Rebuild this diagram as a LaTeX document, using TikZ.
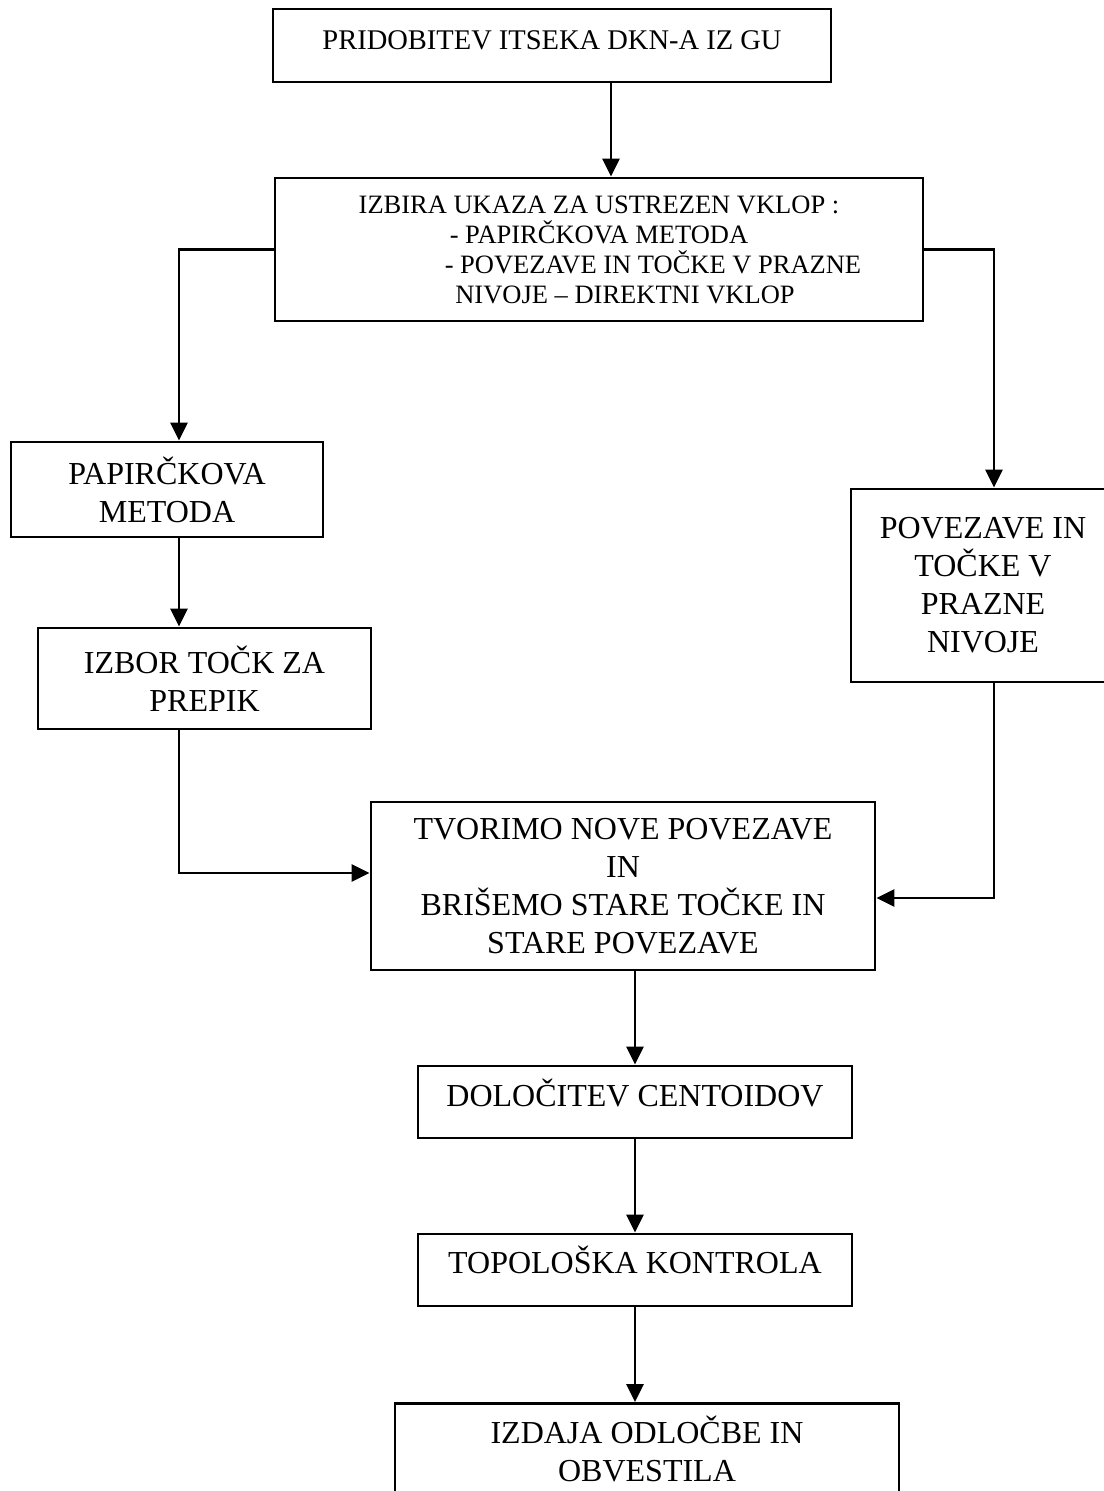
\documentclass[tikz,border=0pt]{standalone}
\usepackage{fontspec}
\setmainfont{Liberation Serif}
\usepackage{tikz}
\usetikzlibrary{arrows.meta}
\newcommand{\mainsize}{\fontsize{32pt}{38pt}\selectfont}
\newcommand{\topsize}{\fontsize{28.5pt}{36pt}\selectfont}
\newcommand{\smallsize}{\fontsize{26.5pt}{30pt}\selectfont}
\tikzstyle{flow}=[x=1pt, y=-1pt, line width=2.8pt]
\tikzstyle{box}=[rectangle, draw, line width=2.8pt, inner sep=0pt, font=\mainsize]
\tikzstyle{onebox}=[box, text height=21pt]
\tikzstyle{multibox}=[box, align=center]
\tikzstyle{edge}=[-{Triangle[width=17pt,length=18pt]}, line width=2.8pt]
\begin{document}
\begin{tikzpicture}[flow]
	\useasboundingbox (0,0) rectangle (1103,1491);
	% columns of the connectors
	\coordinate (xtop) at (611,0);
	\coordinate (xl) at (179,0);
	\coordinate (xr) at (994,0);

	\draw (552,45.5) node[onebox, font=\topsize, text height=19pt, text depth=12pt, minimum width=558pt, minimum height=73pt] (pridobitev) {PRIDOBITEV ITSEKA DKN-A IZ GU};
	\draw (599,249.5) node[multibox, font=\smallsize, minimum width=648pt, minimum height=143pt] (izbira) {IZBIRA UKAZA ZA USTREZEN VKLOP :\\- PAPIRČKOVA METODA\\\hspace*{108pt}- POVEZAVE IN TOČKE V PRAZNE\\\hspace*{52pt}NIVOJE – DIREKTNI VKLOP};

	\draw (167,489.5) node[multibox, minimum width=312pt, minimum height=95pt] (papir) {PAPIRČKOVA\\METODA};
	\draw (204.5,678.5) node[multibox, minimum width=333pt, minimum height=101pt] (izbor) {IZBOR TOČK ZA\\PREPIK};
	\draw (983,585.5) node[multibox, minimum width=264pt, minimum height=193pt] (povezave) {POVEZAVE IN\\TOČKE V\\PRAZNE\\NIVOJE};

	\draw (623,886) node[multibox, minimum width=504pt, minimum height=168pt] (tvorimo) {TVORIMO NOVE POVEZAVE\\IN\\BRIŠEMO STARE TOČKE IN\\STARE POVEZAVE};
	\draw (635,1102) node[onebox, text depth=12pt, minimum width=434pt, minimum height=72pt] (dolocitev) {DOLOČITEV CENTOIDOV};
	\draw (635,1270) node[onebox, text depth=14pt, minimum width=434pt, minimum height=72pt] (topoloska) {TOPOLOŠKA KONTROLA};
	\draw (647,1402) node[multibox, anchor=north, minimum width=504pt, minimum height=129pt] (izdaja) {IZDAJA ODLOČBE IN\\OBVESTILA\\\mbox{}};

	\draw[edge] (pridobitev.south -| xtop) -- (izbira.north -| xtop);
	\draw[edge] (izbira.west) -| (papir.north -| xl);
	\draw[edge] (papir.south -| xl) -- (izbor.north -| xl);
	\draw[edge] (izbor.south -| xl) |- ([yshift=13pt]tvorimo.west);
	\draw[edge] (izbira.east) -| (povezave.north -| xr);
	\draw[edge] (povezave.south -| xr) |- ([yshift=-12pt]tvorimo.east);
	\draw[edge] (tvorimo.south -| dolocitev.north) -- (dolocitev.north);
	\draw[edge] (dolocitev.south) -- (topoloska.north);
	\draw[edge] (topoloska.south) -- (topoloska.south |- izdaja.north);
\end{tikzpicture}
\end{document}
